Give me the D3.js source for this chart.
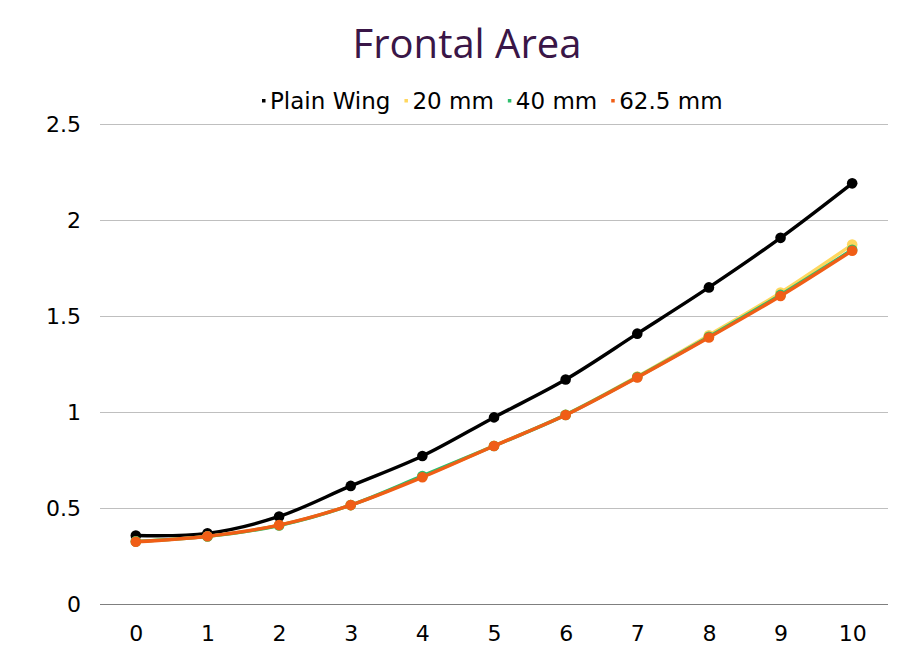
<!DOCTYPE html>
<html>
<head>
<meta charset="utf-8">
<script src="https://cdn.jsdelivr.net/npm/d3@7"></script>
<style>
  html, body { margin: 0; padding: 0; background: #fff; }
  svg { display: block; }
</style>
</head>
<body>
<svg id="chart" width="908" height="660"></svg>
<script>
const categories = [0, 1, 2, 3, 4, 5, 6, 7, 8, 9, 10];
const yTicks = [0, 0.5, 1, 1.5, 2, 2.5];
const seriesNames = ["Plain Wing", "20 mm", "40 mm", "62.5 mm"];
const plainWing = [0.357, 0.368, 0.456, 0.615, 0.771, 0.972, 1.169, 1.408, 1.649, 1.907, 2.191];
const mm20      = [0.326, 0.352, 0.410, 0.515, 0.664, 0.824, 0.986, 1.185, 1.400, 1.622, 1.872];
const mm40      = [0.326, 0.352, 0.409, 0.515, 0.667, 0.823, 0.985, 1.182, 1.392, 1.610, 1.845];
const mm625     = [0.324, 0.353, 0.411, 0.515, 0.660, 0.823, 0.984, 1.180, 1.388, 1.604, 1.840];
const colors = ["#000000", "#FFD75E", "#2DBE6C", "#F05E16"];

(function () {
const series = [plainWing, mm20, mm40, mm625];

const svg = d3.select("#chart");
const pLeft = 100, pRight = 888, pTop = 124, pBottom = 604;
const axisFont = "'DejaVu Sans', 'Liberation Sans', sans-serif";

const x = d3.scalePoint().domain(categories).range([pLeft, pRight]).padding(0.5);
const y = d3.scaleLinear().domain([0, 2.5]).range([pBottom, pTop]);

svg.append("text")
  .attr("x", 467).attr("y", 58)
  .attr("text-anchor", "middle")
  .attr("font-family", "'Open Sans', 'Noto Sans', sans-serif")
  .attr("font-size", 40)
  .attr("fill", "#3A1647")
  .text("Frontal Area");

const yAxis = d3.axisLeft(y).tickValues(yTicks).tickSize(-(pRight - pLeft)).tickPadding(19)
  .tickFormat(d => String(d));
const gy = svg.append("g").attr("transform", `translate(${pLeft},0)`).call(yAxis);
gy.select(".domain").remove();
gy.selectAll(".tick line").attr("stroke", "#BFBFBF").attr("stroke-width", 1);
gy.selectAll(".tick").filter(d => d === 0).select("line").attr("stroke", "#7F7F7F");
gy.selectAll(".tick text")
  .attr("font-family", axisFont)
  .attr("font-size", 22).attr("fill", "#000");

const xAxis = d3.axisBottom(x).tickSize(0).tickPadding(21);
const gx = svg.append("g").attr("transform", `translate(0,${pBottom})`).call(xAxis);
gx.select(".domain").remove();
gx.selectAll(".tick text")
  .attr("font-family", axisFont)
  .attr("font-size", 22).attr("fill", "#000");

const line = d3.line()
  .x((d, i) => x(categories[i]))
  .y(d => y(d))
  .curve(d3.curveCatmullRom.alpha(0.5));

series.forEach((vals, si) => {
  const g = svg.append("g");
  g.append("path")
    .datum(vals)
    .attr("d", line)
    .attr("fill", "none")
    .attr("stroke", colors[si])
    .attr("stroke-width", 3.4)
    .attr("stroke-linejoin", "round");
  g.selectAll("circle")
    .data(vals)
    .enter().append("circle")
    .attr("cx", (d, i) => x(categories[i]))
    .attr("cy", d => y(d))
    .attr("r", 5.3)
    .attr("fill", colors[si]);
});

const legend = svg.append("g").attr("font-family", axisFont).attr("font-size", 23);
let lx = 262;
const ly = 109;
seriesNames.forEach((name, i) => {
  legend.append("rect")
    .attr("x", lx).attr("y", ly - 10)
    .attr("width", 3.5).attr("height", 3.5)
    .attr("fill", colors[i]);
  const t = legend.append("text")
    .attr("x", lx + 8).attr("y", ly)
    .attr("fill", "#000")
    .text(name);
  lx += 8 + t.node().getComputedTextLength() + 14;
});
})();
</script>
</body>
</html>
